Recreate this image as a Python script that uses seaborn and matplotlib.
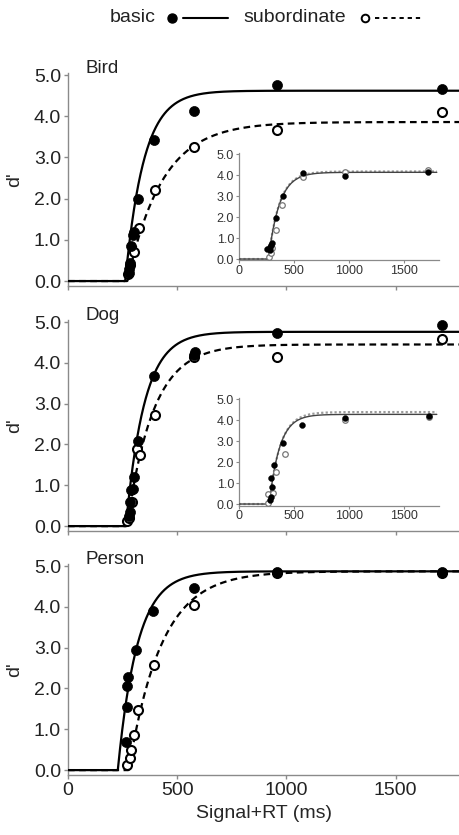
import numpy as np
import pandas as pd
import matplotlib
matplotlib.use("Agg")
import matplotlib.pyplot as plt
import seaborn as sns
from matplotlib.lines import Line2D

# ---------------- data ----------------
panels = ["Bird", "Dog", "Person"]

bird_basic_x = [278, 281, 284, 288, 297, 302, 322, 395, 578, 958, 1711]
bird_basic_y = [0.2, 0.3, 0.45, 0.85, 1.12, 1.18, 2.0, 3.42, 4.13, 4.76, 4.66]
bird_sub_x = [277, 285, 300, 327, 400, 578, 958, 1711]
bird_sub_y = [0.17, 0.4, 0.7, 1.28, 2.22, 3.25, 3.67, 4.1]

dog_basic_x = [280, 282, 286, 290, 296, 300, 322, 394, 578, 580, 958, 1711]
dog_basic_y = [0.25, 0.35, 0.6, 0.88, 0.9, 1.2, 2.08, 3.67, 4.2, 4.26, 4.73, 4.92]
dog_sub_x = [270, 278, 293, 315, 330, 400, 578, 958, 1711]
dog_sub_y = [0.12, 0.2, 0.6, 1.9, 1.74, 2.72, 4.15, 4.15, 4.58]

person_basic_x = [266, 270, 270, 275, 312, 390, 578, 958, 1711]
person_basic_y = [0.69, 1.55, 2.06, 2.28, 2.94, 3.9, 4.46, 4.85, 4.85]
person_sub_x = [272, 286, 290, 300, 322, 395, 578, 958, 1711]
person_sub_y = [0.12, 0.29, 0.49, 0.86, 1.47, 2.57, 4.04, 4.83, 4.83]

# fitted exponential-approach parameters (lambda, beta, delta) per panel
fit_basic_lambda = [4.62, 4.76, 4.87]
fit_basic_beta = [85, 85, 90]
fit_basic_delta = [262, 265, 228]
fit_sub_lambda = [3.86, 4.45, 4.87]
fit_sub_beta = [160, 120, 150]
fit_sub_delta = [272, 270, 278]

# insets (Bird, Dog)
inset_bird_basic_x = [255, 282, 282, 290, 300, 336, 400, 582, 964, 1718]
inset_bird_basic_y = [0.48, 0.43, 0.57, 0.65, 0.76, 1.95, 3.0, 4.1, 3.95, 4.14]
inset_bird_sub_x = [273, 290, 300, 336, 391, 582, 964, 1718]
inset_bird_sub_y = [0.09, 0.3, 0.52, 1.38, 2.57, 3.9, 4.15, 4.25]
inset_dog_basic_x = [280, 291, 291, 300, 318, 400, 573, 964, 1727]
inset_dog_basic_y = [0.19, 0.33, 1.24, 0.8, 1.86, 2.9, 3.76, 4.1, 4.19]
inset_dog_sub_x = [264, 264, 309, 336, 418, 964, 1727]
inset_dog_sub_y = [0.05, 0.48, 0.52, 1.52, 2.38, 4.0, 4.16]

inset_basic_lambda = [4.13, 4.27]
inset_basic_beta = [100, 95]
inset_basic_delta = [268, 275]
inset_sub_lambda = [4.17, 4.38]
inset_sub_beta = [100, 100]
inset_sub_delta = [268, 275]

main_yticks = [0, 1, 2, 3, 4, 5]
main_xticks = [0, 500, 1000, 1500]
legend_labels = ["basic", "subordinate"]

# ---------------- style ----------------
sns.set_style("ticks")
plt.rcParams["font.family"] = ["Liberation Sans", "DejaVu Sans"]

W, H = 459, 835
fig = plt.figure(figsize=(W / 100, H / 100), dpi=100)

SPINE = "#8a8a8a"
TXT = "#222222"


def sat(t, lam, beta, delta):
    t = np.asarray(t, dtype=float)
    return np.where(t > delta, lam * (1 - np.exp(-(t - delta) / beta)), 0.0)


def ax_rect(left_px, top_px, right_px, bottom_px):
    return [left_px / W, 1 - bottom_px / H, (right_px - left_px) / W, (bottom_px - top_px) / H]


main_rects = [
    ax_rect(68, 73, 460, 286),
    ax_rect(68, 320, 460, 531),
    ax_rect(68, 564, 460, 775),
]
inset_rects = [
    ax_rect(239, 153, 439, 260.5),
    ax_rect(239, 398, 439, 505.5),
]

pts = {
    "Bird": (bird_basic_x, bird_basic_y, bird_sub_x, bird_sub_y),
    "Dog": (dog_basic_x, dog_basic_y, dog_sub_x, dog_sub_y),
    "Person": (person_basic_x, person_basic_y, person_sub_x, person_sub_y),
}
inset_pts = [
    (inset_bird_basic_x, inset_bird_basic_y, inset_bird_sub_x, inset_bird_sub_y),
    (inset_dog_basic_x, inset_dog_basic_y, inset_dog_sub_x, inset_dog_sub_y),
]

t = np.linspace(0, 1800, 900)

for i, name in enumerate(panels):
    ax = fig.add_axes(main_rects[i])
    bx, by, sx, sy = pts[name]
    cb = pd.DataFrame({"t": t, "d": sat(t, fit_basic_lambda[i], fit_basic_beta[i], fit_basic_delta[i])})
    cs = pd.DataFrame({"t": t, "d": sat(t, fit_sub_lambda[i], fit_sub_beta[i], fit_sub_delta[i])})
    sns.lineplot(data=cs, x="t", y="d", ax=ax, color="black", lw=1.6,
                 linestyle=(0, (3, 2)), estimator=None, sort=False, zorder=2)
    sns.lineplot(data=cb, x="t", y="d", ax=ax, color="black", lw=1.6,
                 estimator=None, sort=False, zorder=3)
    sns.scatterplot(x=sx, y=sy, ax=ax, marker="o", s=42, facecolor="white",
                    edgecolor="black", linewidth=1.5, zorder=4)
    sns.scatterplot(x=bx, y=by, ax=ax, marker="o", s=52, color="black",
                    edgecolor="black", linewidth=0.5, zorder=5)
    ax.set_xlim(0, 1795)
    ax.set_ylim(-0.12, 5.05)
    ax.set_yticks(main_yticks)
    ax.set_yticklabels([f"{v:.1f}" for v in main_yticks], fontsize=14)
    ax.set_xticks(main_xticks)
    if i == 2:
        ax.set_xticklabels([str(v) for v in main_xticks], fontsize=14)
        ax.set_xlabel("Signal+RT (ms)", fontsize=14, labelpad=4)
    else:
        ax.set_xticklabels([])
        ax.set_xlabel("")
    ax.set_ylabel("d'", fontsize=14, labelpad=6)
    ax.yaxis.set_label_coords(-0.115, 0.5)
    sns.despine(ax=ax)
    for sp in ("left", "bottom"):
        ax.spines[sp].set_color(SPINE)
        ax.spines[sp].set_linewidth(1.0)
    ax.tick_params(colors=SPINE, labelcolor=TXT, length=3, width=1, pad=2)
    ax.text(0.045, 1.02, name, transform=ax.transAxes, fontsize=13.5,
            ha="left", va="center", color=TXT)
    ax.set_facecolor("none")
    ax.grid(False)

for j in range(2):
    ax = fig.add_axes(inset_rects[j])
    bx, by, sx, sy = inset_pts[j]
    cb = pd.DataFrame({"t": t, "d": sat(t, inset_basic_lambda[j], inset_basic_beta[j], inset_basic_delta[j])})
    cs = pd.DataFrame({"t": t, "d": sat(t, inset_sub_lambda[j], inset_sub_beta[j], inset_sub_delta[j])})
    sns.lineplot(data=cs, x="t", y="d", ax=ax, color="#9a9a9a", lw=1.6,
                 linestyle=(0, (1, 1)), estimator=None, sort=False, zorder=2)
    sns.lineplot(data=cb, x="t", y="d", ax=ax, color="#444444", lw=1.0,
                 estimator=None, sort=False, zorder=3)
    sns.scatterplot(x=sx, y=sy, ax=ax, marker="o", s=16, facecolor="white",
                    edgecolor="#777777", linewidth=0.9, zorder=4)
    sns.scatterplot(x=bx, y=by, ax=ax, marker="o", s=18, color="black",
                    edgecolor="black", linewidth=0.3, zorder=5)
    ax.set_xlim(0, 1820)
    ax.set_ylim(-0.07, 5.05)
    ax.set_yticks(main_yticks)
    ax.set_yticklabels([f"{v:.1f}" for v in main_yticks], fontsize=9)
    ax.set_xticks(main_xticks)
    ax.set_xticklabels([str(v) for v in main_xticks], fontsize=9)
    ax.set_xlabel("")
    ax.set_ylabel("")
    sns.despine(ax=ax)
    for sp in ("left", "bottom"):
        ax.spines[sp].set_color(SPINE)
        ax.spines[sp].set_linewidth(0.9)
    ax.tick_params(colors=SPINE, labelcolor="#333333", length=2, width=0.8, pad=1.5)
    ax.patch.set_alpha(0.0)
    ax.grid(False)

# ---------------- legend (drawn in figure pixels) ----------------
ly = 1 - 18 / H


def fx(px):
    return px / W


fig.text(fx(110), ly, legend_labels[0], fontsize=14, ha="left", va="center", color=TXT)
fig.add_artist(Line2D([fx(172)], [ly], marker="o", ms=6.5, color="black", ls="none",
                      transform=fig.transFigure))
fig.add_artist(Line2D([fx(183), fx(228)], [ly, ly], color="black", lw=1.5,
                      transform=fig.transFigure))
fig.text(fx(243), ly, legend_labels[1], fontsize=14, ha="left", va="center", color=TXT)
fig.add_artist(Line2D([fx(365)], [ly], marker="o", ms=5.5, mfc="white", mec="black",
                      mew=1.4, ls="none", transform=fig.transFigure))
fig.add_artist(Line2D([fx(375), fx(422)], [ly, ly], color="black", lw=1.4,
                      ls=(0, (2.2, 2)), transform=fig.transFigure))

fig.savefig("out.png", dpi=100)
